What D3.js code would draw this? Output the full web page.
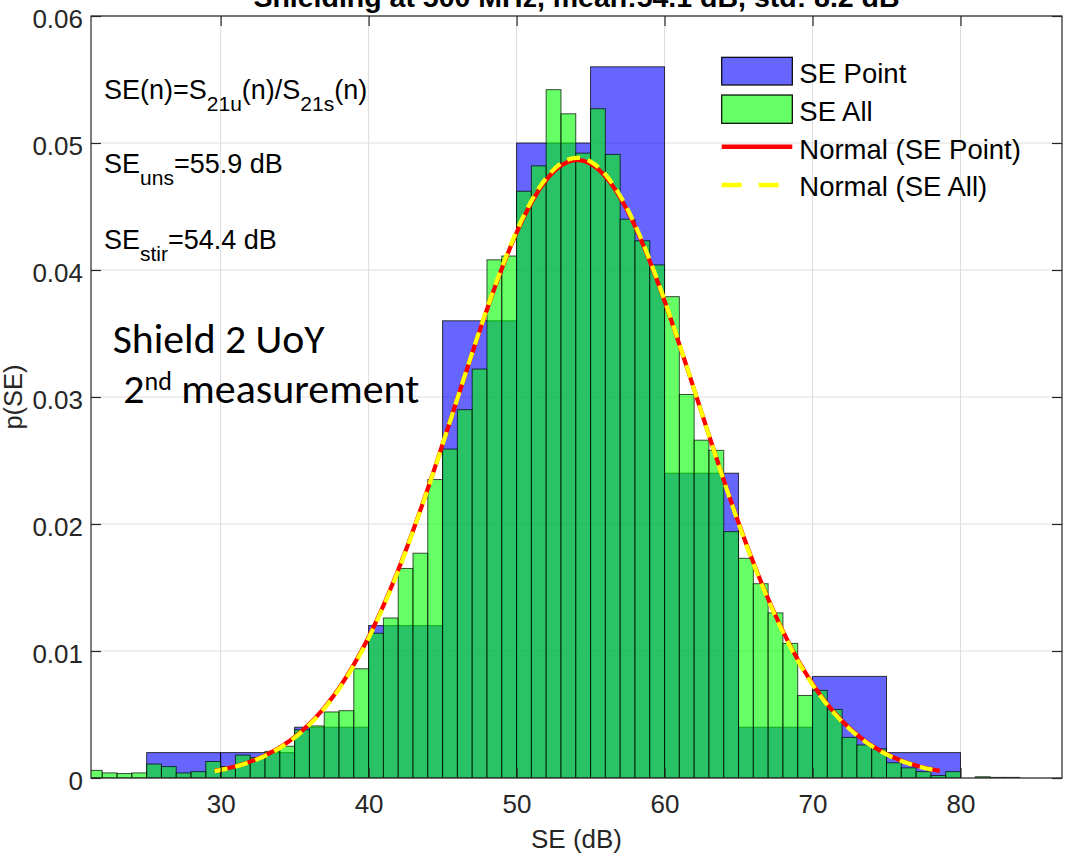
<!DOCTYPE html>
<html><head><meta charset="utf-8">
<script src="https://cdn.jsdelivr.net/npm/d3@7/dist/d3.min.js"></script>
<style>body{margin:0;background:#fff;} svg{display:block;}</style>
</head><body>
<svg id="chart" width="1067" height="857"></svg>
<script>
// ---------- data ----------
const titleText = "Shielding at 500 MHz, mean:54.1 dB, std: 8.2 dB";
const xLabel = "SE (dB)";
const yLabel = "p(SE)";
const legendLabels = ["SE Point", "SE All", "Normal (SE Point)", "Normal (SE All)"];

// SE Point histogram (5 dB bins)
const blueEdges  = [25, 30, 35, 40, 45, 50, 55, 60, 65, 70, 75, 80];
const blueValues = [0.002, 0.002, 0.004, 0.012, 0.036, 0.050, 0.056, 0.024, 0.004, 0.008, 0.002];

// SE All histogram (1 dB bins)
const greenEdges = [21,22,23,24,25,26,27,28,29,30,31,32,33,34,35,36,37,38,39,40,41,42,43,44,45,46,47,48,49,50,
                    51,52,53,54,55,56,57,58,59,60,61,62,63,64,65,66,67,68,69,70,71,72,73,74,75,76,77,78,79,80,
                    81,82,83,84];
const greenValues = [0.0006,0.0004,0.00035,0.0004,0.0011,0.0009,0.0004,0.0005,0.0013,0.0009,
                     0.0018,0.0016,0.0021,0.0025,0.0038,0.0041,0.0052,0.0053,0.0086,0.0114,
                     0.0126,0.0165,0.0177,0.0235,0.0259,0.0290,0.0322,0.0408,0.0411,0.0462,
                     0.0482,0.0542,0.0523,0.0492,0.0527,0.0491,0.0440,0.0423,0.0404,0.0379,
                     0.0302,0.0266,0.0258,0.0194,0.0173,0.0153,0.0130,0.0106,0.0065,0.0069,
                     0.0054,0.0032,0.0026,0.0023,0.0012,0.0008,0.0005,0.0002,0.0005,0.0000,
                     0.0001,0.00005,0.00005];

// normal fits
const meanPoint = 54.1, stdPoint = 8.2;
const meanAll = 54.1, stdAll = 8.17;
const fitRange = [29.6, 78.6];

const xDomain = [21.24, 86.86];
const yDomain = [0, 0.06];
const xTicks = [30, 40, 50, 60, 70, 80];
const yTicks = [0, 0.01, 0.02, 0.03, 0.04, 0.05, 0.06];
const yTickLabels = ["0", "0.01", "0.02", "0.03", "0.04", "0.05", "0.06"];

// ---------- drawing ----------
const svg = d3.select("#chart");
const L = 91, R = 1062, T = 16, B = 778;
const x = d3.scaleLinear().domain(xDomain).range([L, R]);
const y = d3.scaleLinear().domain(yDomain).range([B, T]);
const FONT = "'Liberation Sans', Arial, Helvetica, sans-serif";

svg.append("defs").append("clipPath").attr("id", "plotclip")
  .append("rect").attr("x", L).attr("y", T).attr("width", R - L).attr("height", B - T);

// grid
const grid = svg.append("g").attr("stroke", "#dedede").attr("stroke-width", 1);
xTicks.forEach(v => grid.append("line").attr("x1", x(v)).attr("x2", x(v)).attr("y1", T).attr("y2", B));
yTicks.forEach(v => grid.append("line").attr("x1", L).attr("x2", R).attr("y1", y(v)).attr("y2", y(v)));

const plot = svg.append("g").attr("clip-path", "url(#plotclip)");

// blue bars
plot.append("g").selectAll("rect").data(blueValues).join("rect")
  .attr("x", (d, i) => x(blueEdges[i]))
  .attr("width", (d, i) => x(blueEdges[i + 1]) - x(blueEdges[i]))
  .attr("y", d => y(d))
  .attr("height", d => y(0) - y(d))
  .attr("fill", "#0000ff").attr("fill-opacity", 0.6)
  .attr("stroke", "#000").attr("stroke-opacity", 0.75).attr("stroke-width", 1);

// green bars
plot.append("g").selectAll("rect").data(greenValues).join("rect")
  .attr("x", (d, i) => x(greenEdges[i]))
  .attr("width", (d, i) => x(greenEdges[i + 1]) - x(greenEdges[i]))
  .attr("y", d => y(d))
  .attr("height", d => y(0) - y(d))
  .attr("fill", "#00ff00").attr("fill-opacity", 0.6)
  .attr("stroke", "#000").attr("stroke-opacity", 0.7).attr("stroke-width", 1);

// normal curves
function pdf(m, s) { return v => Math.exp(-0.5 * ((v - m) / s) ** 2) / (s * Math.sqrt(2 * Math.PI)); }
const xs = d3.range(fitRange[0], fitRange[1] + 1e-9, 0.1);
const line = d3.line().x(d => x(d[0])).y(d => y(d[1]));
const fP = pdf(meanPoint, stdPoint), fA = pdf(meanAll, stdAll);
plot.append("path").attr("d", line(xs.map(v => [v, fP(v)])))
  .attr("fill", "none").attr("stroke", "#ff0000").attr("stroke-width", 4.2);
plot.append("path").attr("d", line(xs.map(v => [v, fA(v)])))
  .attr("fill", "none").attr("stroke", "#ffff00").attr("stroke-width", 4.2)
  .attr("stroke-dasharray", "13,8");

// axes box
svg.append("rect").attr("x", L).attr("y", T).attr("width", R - L).attr("height", B - T)
  .attr("fill", "none").attr("stroke", "#262626").attr("stroke-width", 1.2);

const axB = svg.append("g").attr("transform", `translate(0,${B})`)
  .call(d3.axisBottom(x).tickValues(xTicks).tickSizeInner(-10).tickSizeOuter(0).tickPadding(17).tickFormat(d3.format("d")));
const axL = svg.append("g").attr("transform", `translate(${L},0)`)
  .call(d3.axisLeft(y).tickValues(yTicks).tickSizeInner(-10).tickSizeOuter(0).tickPadding(8)
    .tickFormat((d, i) => yTickLabels[i]));
const axT = svg.append("g").attr("transform", `translate(0,${T})`)
  .call(d3.axisTop(x).tickValues(xTicks).tickSizeInner(-10).tickSizeOuter(0).tickFormat(""));
const axR = svg.append("g").attr("transform", `translate(${R},0)`)
  .call(d3.axisRight(y).tickValues(yTicks).tickSizeInner(-10).tickSizeOuter(0).tickFormat(""));
[axB, axL, axT, axR].forEach(a => {
  a.select(".domain").remove();
  a.selectAll(".tick line").attr("stroke", "#262626").attr("stroke-width", 1.2);
  a.selectAll("text").attr("font-family", FONT).attr("font-size", 26).attr("fill", "#262626");
});
axL.selectAll("text").attr("dy", "0.46em");

// title (partially cut at top, as in the reference)
svg.append("text").attr("x", (L + R) / 2).attr("y", 6.5).attr("text-anchor", "middle")
  .attr("font-family", FONT).attr("font-weight", "bold").attr("font-size", 28.5).attr("fill", "#000")
  .text(titleText);

// axis labels
svg.append("text").attr("x", (L + R) / 2).attr("y", 848).attr("text-anchor", "middle")
  .attr("font-family", FONT).attr("font-size", 26).attr("fill", "#262626").text(xLabel);
svg.append("text").attr("transform", `translate(22,${(T + B) / 2}) rotate(-90)`).attr("text-anchor", "middle")
  .attr("font-family", FONT).attr("font-size", 25.5).attr("fill", "#262626").text(yLabel);

// annotations with subscripts
function subText(xp, yp, parts) {
  const t = svg.append("text").attr("x", xp).attr("y", yp).attr("font-family", FONT)
    .attr("font-size", 27).attr("fill", "#000");
  let cur = 0;
  parts.forEach(p => {
    const off = p.sub ? 12 : 0;
    t.append("tspan").attr("dy", off - cur).attr("font-size", p.sub ? 21 : 27).text(p.t);
    cur = off;
  });
}
subText(104, 99.3, [{t: "SE(n)=S"}, {t: "21u", sub: true}, {t: "(n)/S"}, {t: "21s", sub: true}, {t: "(n)"}]);
subText(104, 173.3, [{t: "SE"}, {t: "uns", sub: true}, {t: "=55.9 dB"}]);
subText(104, 249.3, [{t: "SE"}, {t: "stir", sub: true}, {t: "=54.4 dB"}]);

// "Shield 2 UoY" note
const NOTE = "Carlito, Calibri, Lato, 'Open Sans', sans-serif";
const n1 = svg.append("text").attr("x", 112.7).attr("y", 353.3).attr("font-family", NOTE)
  .attr("font-size", 37).attr("fill", "#000").text("Shield 2 UoY");
const w1 = n1.node().getComputedTextLength();
n1.attr("font-size", 37 * 212 / w1);
const n2 = svg.append("text").attr("x", 123.3).attr("y", 403.3).attr("font-family", NOTE)
  .attr("font-size", 37).attr("fill", "#000");
n2.append("tspan").text("2");
n2.append("tspan").attr("dy", -13).attr("font-size", "0.62em").text("nd");
n2.append("tspan").attr("dy", 13).text(" measurement");
const w2 = n2.node().getComputedTextLength();
n2.attr("font-size", 37 * 296 / w2);

// legend
const lg = svg.append("g");
const lx0 = 721.7, lx1 = 792.3, ltx = 799.3;
lg.append("rect").attr("x", lx0).attr("y", 57.3).attr("width", lx1 - lx0).attr("height", 27.7)
  .attr("fill", "#0000ff").attr("fill-opacity", 0.6).attr("stroke", "#000").attr("stroke-width", 1.2);
lg.append("rect").attr("x", lx0).attr("y", 95).attr("width", lx1 - lx0).attr("height", 28.3)
  .attr("fill", "#00ff00").attr("fill-opacity", 0.6).attr("stroke", "#000").attr("stroke-width", 1.2);
lg.append("line").attr("x1", lx0).attr("x2", lx1).attr("y1", 146.7).attr("y2", 146.7)
  .attr("stroke", "#ff0000").attr("stroke-width", 4.5);
lg.append("line").attr("x1", lx0).attr("x2", lx1).attr("y1", 185).attr("y2", 185)
  .attr("stroke", "#ffff00").attr("stroke-width", 4.5).attr("stroke-dasharray", "20,17");
const lBase = [83.3, 120.7, 159, 195.7];
legendLabels.forEach((s, i) => lg.append("text").attr("x", ltx).attr("y", lBase[i])
  .attr("font-family", FONT).attr("font-size", 27.5).attr("fill", "#000").text(s));
</script>
</body></html>
